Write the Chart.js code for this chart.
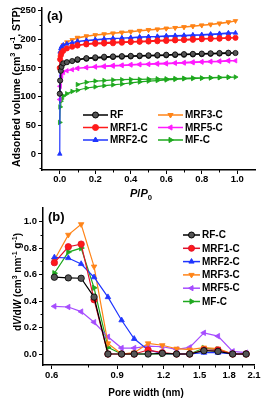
<!DOCTYPE html>
<html>
<head>
<meta charset="utf-8">
<script src="https://cdn.jsdelivr.net/npm/chart.js@4.4.0/dist/chart.umd.min.js"></script>
<style>
  html, body { margin: 0; padding: 0; background: #fff; }
  #wrap { position: relative; width: 263px; height: 402px; }
  .panel { position: absolute; left: 0; width: 263px; }
  #panel-a { top: 0; height: 200px; }
  #panel-b { top: 200px; height: 202px; }
</style>
</head>
<body>
<div id="wrap">
  <div class="panel" id="panel-a"><canvas id="isotherm-chart"></canvas></div>
  <div class="panel" id="panel-b"><canvas id="psd-chart"></canvas></div>
</div>
<script>
// (a) N2 isotherms: adsorption branch, then desorption branch
var pressureAds = [0.0001, 0.002, 0.006, 0.01, 0.02, 0.04, 0.07, 0.1, 0.15, 0.2, 0.25, 0.3, 0.35, 0.4, 0.45, 0.5, 0.55, 0.6, 0.65, 0.7, 0.75, 0.8, 0.85, 0.9, 0.95, 0.99];
var pressureDes = [0.95, 0.9, 0.85, 0.8, 0.75, 0.7, 0.65, 0.6, 0.55, 0.5, 0.45, 0.4, 0.35, 0.3, 0.25, 0.2, 0.15, 0.1];

var rfAds = [105, 128, 145, 152, 158, 160, 162, 164, 166, 167, 168, 169, 169.5, 170, 170.5, 171, 171.5, 172, 172.5, 173, 173.5, 174, 174.5, 175, 175.5, 176];
var rfDes = [176.5, 176, 175.5, 175, 174.5, 174, 173.5, 173, 172.5, 172, 171.5, 171, 170.5, 170, 169.5, 168.5, 167, 165];
var mrf1Ads = [150, 165, 172, 176, 180, 184, 187, 189, 191, 192, 192.5, 193, 194, 195, 195.5, 196, 196.5, 197, 198, 198.5, 199, 200, 200.5, 201, 202, 202.5];
var mrf1Des = [203, 202, 201.5, 201, 200.5, 199.5, 199, 198.5, 198, 197, 196.5, 196, 195.5, 195, 194, 193.5, 192, 190];
var mrf2Ads = [0, 178, 184, 187, 190, 192, 194, 196, 197.5, 198.5, 200, 201, 202, 202.5, 203, 204, 204.5, 205, 205.5, 206, 206.5, 207, 208, 209, 210, 211];
var mrf2Des = [211, 210, 209, 208, 207.5, 207, 206.5, 206, 205, 204.5, 204, 203, 202, 201.5, 200.5, 199.5, 198, 196.5];
var mrf3Ads = [150, 168, 176, 180, 190, 195, 199, 202, 205, 207, 208.5, 210, 211.5, 213, 214.5, 216, 217, 218.5, 220, 221, 222.5, 224, 225.5, 227, 229.5, 232];
var mrf3Des = [230, 228, 226, 224.5, 223, 221.5, 220, 219, 217.5, 216.5, 215, 213.5, 212, 210.5, 209, 207.5, 205.5, 203];
var mrf5Ads = [95, 118, 130, 136, 142, 145, 147, 149, 150.5, 151.5, 152, 153, 154, 155, 155.5, 156, 156.5, 157, 158, 158.5, 159, 160, 160.5, 161, 162, 162.5];
var mrf5Des = [163, 162, 161.5, 161, 160.5, 159.5, 159, 158.5, 158, 157, 156.5, 156, 155, 154.5, 153.5, 152.5, 151, 149.5];
var mfAds = [55, 82, 92, 96, 101, 105, 109, 111, 115, 117, 119, 120.5, 122, 124, 125.5, 127, 128, 129, 130, 131, 131.5, 132, 132.5, 133, 133.5, 134];
var mfDes = [134, 133.5, 133, 132.5, 132.5, 132, 131.5, 131, 131, 130.5, 130, 130, 129.5, 129, 128, 127, 125, 121];

var isoLabels = ["RF", "MRF1-C", "MRF2-C", "MRF3-C", "MRF5-C", "MF-C"];
var isoTicksX = [0, 0.2, 0.4, 0.6, 0.8, 1.0];
var isoTicksY = [0, 50, 100, 150, 200, 250];

// (b) pore size distribution
var poreWidth = [0.61, 0.665, 0.72, 0.78, 0.85, 0.925, 1.0, 1.09, 1.19, 1.3, 1.41, 1.54, 1.68, 1.84, 2.0];
var psdRF = [0.58, 0.575, 0.572, 0.43, 0, 0, 0, 0, 0.005, 0, 0, 0.025, 0.02, 0, 0];
var psdMRF1 = [0.69, 0.81, 0.83, 0.41, 0, 0, 0, 0.03, 0.01, 0, 0, 0.03, 0.03, 0, 0];
var psdMRF2 = [0.73, 0.725, 0.68, 0.58, 0.43, 0.255, 0.115, 0.03, 0.005, 0, 0, 0.01, 0.01, 0, 0];
var psdMRF3 = [0.71, 0.9, 0.98, 0.66, 0.08, 0, 0.01, 0.08, 0.066, 0.04, 0.033, 0.048, 0.04, 0, 0];
var psdMRF5 = [0.36, 0.355, 0.32, 0.24, 0.13, 0.045, 0.045, 0.06, 0.055, 0.035, 0.05, 0.16, 0.135, 0.02, 0.01];
var psdMF = [0.61, 0.77, 0.8, 0.5, 0.05, 0, 0, 0, 0, 0, 0, 0.045, 0.035, 0, 0];

var psdLabels = ["RF-C", "MRF1-C", "MRF2-C", "MRF3-C", "MRF5-C", "MF-C"];
var psdTicksX = [0.6, 0.9, 1.2, 1.5, 1.8, 2.1];
var psdTicksY = [0, 0.2, 0.4, 0.6, 0.8, 1.0];

var FONT = "'Liberation Sans', Arial, sans-serif";

function richFont(part, size) {
  var s = part.sup || part.sub ? size * 0.7 : size;
  return (part.italic ? "italic " : "") + "bold " + s + "px " + FONT;
}

// draws text made of pieces (italic / superscript / subscript), centred on x
function drawRich(ctx, parts, x, y, size, angle) {
  ctx.save();
  ctx.translate(x, y);
  ctx.rotate(angle || 0);
  ctx.textBaseline = "alphabetic";
  ctx.textAlign = "left";
  ctx.fillStyle = "#000";
  var total = 0;
  parts.forEach(function (p) {
    ctx.font = richFont(p, size);
    total += ctx.measureText(p.text).width;
  });
  var cx = -total / 2;
  parts.forEach(function (p) {
    ctx.font = richFont(p, size);
    var dy = p.sup ? -size * 0.45 : p.sub ? size * 0.3 : 0;
    ctx.fillText(p.text, cx, dy);
    cx += ctx.measureText(p.text).width;
  });
  ctx.restore();
}

function drawMinorTicks(chart, minorX, minorY) {
  var ctx = chart.ctx;
  var xs = chart.scales.x, ys = chart.scales.y;
  var area = chart.chartArea;
  ctx.save();
  ctx.strokeStyle = "#000";
  ctx.lineWidth = 1;
  ctx.beginPath();
  minorX.forEach(function (v) {
    var px = Math.round(xs.getPixelForValue(v)) + 0.5;
    ctx.moveTo(px, area.bottom);
    ctx.lineTo(px, area.bottom + 2.5);
  });
  minorY.forEach(function (v) {
    var py = Math.round(ys.getPixelForValue(v)) + 0.5;
    ctx.moveTo(area.left, py);
    ctx.lineTo(area.left - 2.5, py);
  });
  ctx.stroke();
  ctx.restore();
}

function drawLegendItem(ctx, ds, x1, x2, y) {
  ctx.save();
  ctx.strokeStyle = ds.borderColor;
  ctx.lineWidth = 1.5;
  ctx.beginPath();
  ctx.moveTo(x1, y);
  ctx.lineTo(x2, y);
  ctx.stroke();
  ctx.fillStyle = ds.pointBackgroundColor;
  ctx.strokeStyle = ds.pointBorderColor;
  ctx.lineWidth = 1;
  Chart.helpers.drawPoint(ctx, {
    pointStyle: ds.pointStyle,
    rotation: ds.pointRotation,
    radius: 3,
    borderWidth: 1
  }, (x1 + x2) / 2, y);
  ctx.fillStyle = "#000";
  ctx.font = "bold 10px " + FONT;
  ctx.textBaseline = "middle";
  ctx.textAlign = "left";
  ctx.fillText(ds.label, x2 + 2, y + 0.5);
  ctx.restore();
}

function series(label, line, fill, style, rot, xs, ys, radius) {
  return {
    label: label,
    data: xs.map(function (x, i) { return { x: x, y: ys[i] }; }),
    borderColor: line,
    borderWidth: 1.2,
    pointBackgroundColor: fill,
    pointBorderColor: line,
    pointBorderWidth: 0.8,
    pointStyle: style,
    pointRotation: rot,
    pointRadius: radius,
    tension: 0
  };
}

function axis(min, max, ticks, fmt, type, pad) {
  return {
    type: type || "linear",
    min: min,
    max: max,
    afterBuildTicks: function (scale) {
      scale.ticks = ticks.map(function (v) { return { value: v }; });
    },
    border: { display: true, color: "#000", width: 1.5 },
    grid: { display: true, drawOnChartArea: false, drawTicks: true, tickLength: 4, color: "#000", lineWidth: 1 },
    ticks: {
      color: "#000",
      font: { family: FONT, size: 9.5, weight: "bold" },
      padding: pad,
      maxRotation: 0,
      autoSkip: false,
      callback: function (v) { return fmt(v); }
    }
  };
}

// ---------- panel (a) ----------
var pressureAll = pressureAds.concat(pressureDes);
var isoColors = ["#000000", "#ff1a1a", "#1f35ff", "#ff8418", "#ff1aff", "#1ea81e"];
var isoFills = ["#555555", "#ff1a1a", "#1f35ff", "#ff8418", "#ff1aff", "#1ea81e"];
var isoStyles = [["circle", 0], ["circle", 0], ["triangle", 0], ["triangle", 180], ["triangle", 270], ["triangle", 90]];
var isoValues = [rfAds.concat(rfDes), mrf1Ads.concat(mrf1Des), mrf2Ads.concat(mrf2Des),
  mrf3Ads.concat(mrf3Des), mrf5Ads.concat(mrf5Des), mfAds.concat(mfDes)];

var isoDatasets = isoLabels.map(function (name, i) {
  return series(name, isoColors[i], isoFills[i], isoStyles[i][0], isoStyles[i][1], pressureAll, isoValues[i], 2.6);
});

var xa = axis(-0.1, 1.1, isoTicksX, function (v) { return v.toFixed(1); }, "linear", 0);
xa.afterFit = function (s) { s.height = 30; };
var ya = axis(-28, 255, isoTicksY, function (v) { return String(v); }, "linear", 2);
ya.afterFit = function (s) { s.width = 42; };

new Chart(document.getElementById("isotherm-chart").getContext("2d"), {
  type: "line",
  data: { datasets: isoDatasets },
  options: {
    responsive: true,
    maintainAspectRatio: false,
    animation: false,
    layout: { padding: { top: 4.3, right: 8, left: 0, bottom: 0 } },
    plugins: { legend: { display: false }, tooltip: { enabled: false } },
    scales: { x: xa, y: ya }
  },
  plugins: [{
    id: "decorA",
    afterDraw: function (chart) {
      var ctx = chart.ctx;
      drawMinorTicks(chart, [0.1, 0.3, 0.5, 0.7, 0.9], [-25, 25, 75, 125, 175, 225]);
      ctx.save();
      ctx.fillStyle = "#000";
      ctx.font = "bold 13px " + FONT;
      ctx.fillText("(a)", 47, 20);
      ctx.restore();
      drawRich(ctx, [
        { text: "Adsorbed volume (cm" }, { text: "3", sup: true }, { text: " g" },
        { text: "-1", sup: true }, { text: ", STP)" }
      ], 20, 87, 10.5, -Math.PI / 2);
      drawRich(ctx, [{ text: "P", italic: true }, { text: "/" }, { text: "P", italic: true }, { text: "0", sub: true }],
        141, 197, 11, 0);
      var ds = chart.data.datasets;
      var rows = [115, 127.5, 140];
      for (var i = 0; i < 3; i++) {
        drawLegendItem(ctx, ds[i], 83, 108, rows[i]);
        drawLegendItem(ctx, ds[i + 3], 158, 183, rows[i]);
      }
    }
  }]
});

// ---------- panel (b) ----------
var psdColors = ["#000000", "#e0102a", "#1f35ff", "#ff8418", "#a64dff", "#1ea81e"];
var psdFills = ["#555555", "#ff1a1a", "#1f35ff", "#ff8418", "#a64dff", "#1ea81e"];
var psdValues = [psdRF, psdMRF1, psdMRF2, psdMRF3, psdMRF5, psdMF];

var psdDatasets = psdLabels.map(function (name, i) {
  return series(name, psdColors[i], psdFills[i], isoStyles[i][0], isoStyles[i][1], poreWidth, psdValues[i], 3.2);
});

var xb = axis(0.5685, 2.1, psdTicksX, function (v) { return Number(v).toFixed(1); }, "logarithmic", 1);
xb.afterFit = function (s) { s.height = 37; };
var yb = axis(-0.083, 1.105, psdTicksY, function (v) { return v.toFixed(1); }, "linear", 2);
yb.afterFit = function (s) { s.width = 43; };

new Chart(document.getElementById("psd-chart").getContext("2d"), {
  type: "line",
  data: { datasets: psdDatasets },
  options: {
    responsive: true,
    maintainAspectRatio: false,
    animation: false,
    layout: { padding: { top: 5.3, right: 9, left: 0, bottom: 0 } },
    plugins: { legend: { display: false }, tooltip: { enabled: false } },
    scales: { x: xb, y: yb }
  },
  plugins: [{
    id: "decorB",
    afterDraw: function (chart) {
      var ctx = chart.ctx;
      drawMinorTicks(chart, [0.75, 1.05, 1.35, 1.65, 1.95], [0.1, 0.3, 0.5, 0.7, 0.9]);
      ctx.save();
      ctx.fillStyle = "#000";
      ctx.font = "bold 13px " + FONT;
      ctx.fillText("(b)", 48, 21);
      ctx.restore();
      drawRich(ctx, [
        { text: "d" }, { text: "V", italic: true }, { text: "/d" }, { text: "W", italic: true },
        { text: " (cm" }, { text: "3", sup: true }, { text: " nm" }, { text: "-1", sup: true },
        { text: " g" }, { text: "-1", sup: true }, { text: ")" }
      ], 21, 82, 10, -Math.PI / 2);
      drawRich(ctx, [{ text: "Pore width (nm)" }], 146, 196, 10, 0);
      var ds = chart.data.datasets;
      var rows = [35, 48.3, 61.6, 74.9, 88.2, 101.5];
      for (var i = 0; i < ds.length; i++) {
        drawLegendItem(ctx, ds[i], 183, 200, rows[i]);
      }
    }
  }]
});
</script>
</body>
</html>
